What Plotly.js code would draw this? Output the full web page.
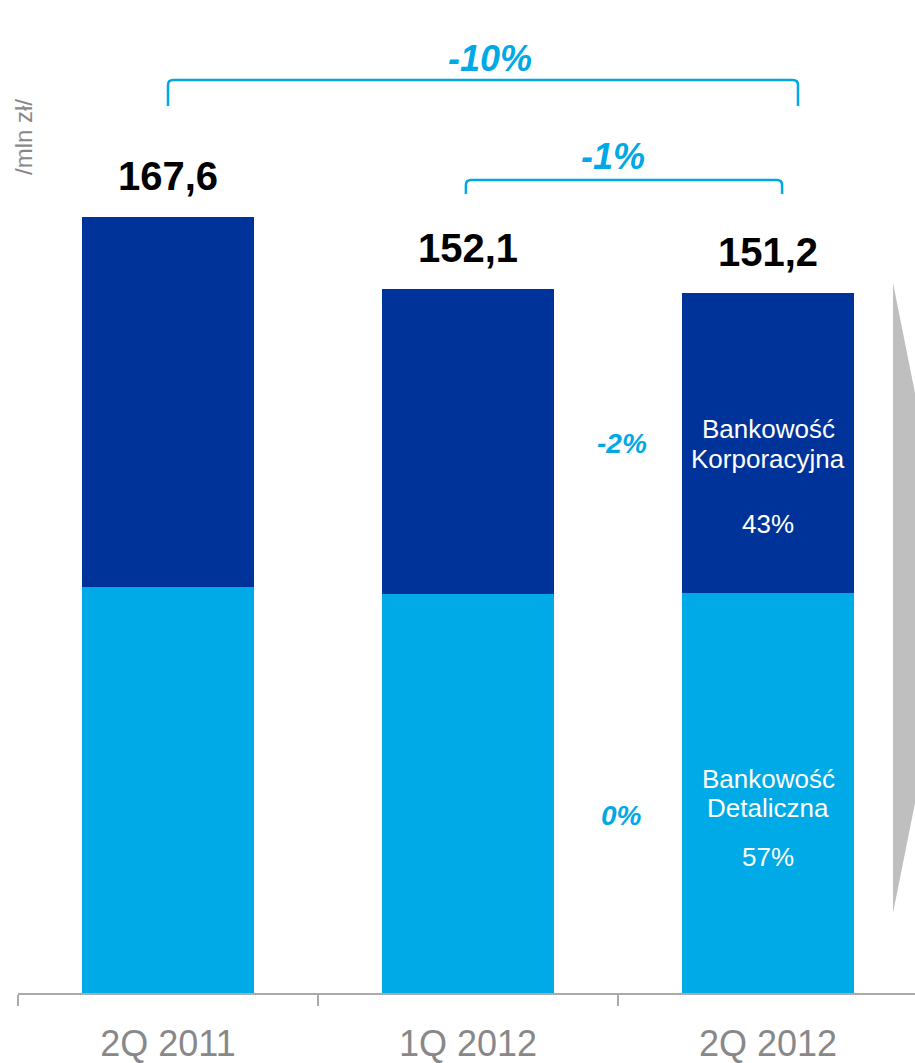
<!DOCTYPE html>
<html>
<head>
<meta charset="utf-8">
<script src="https://cdn.plot.ly/plotly-3.0.1.min.js"></script>
<style>html,body{margin:0;padding:0;background:#fff;}#chart{width:915px;height:1063px;}</style>
</head>
<body>
<div id="chart"></div>
<script>
// ---- data ----
const categories = ["2Q 2011", "1Q 2012", "2Q 2012"];
const retail = [87.7, 86.2, 86.4];        // Bankowość Detaliczna
const corporate = [79.9, 65.9, 64.8];     // Bankowość Korporacyjna
const totalLabels = ["167,6", "152,1", "151,2"];
const corporateLines = ["Bankowość", "Korporacyjna"];
const retailLines = ["Bankowość", "Detaliczna"];
const changeTotalLong = "-10%";
const changeTotalShort = "-1%";
const changeCorporate = "-2%";
const changeRetail = "0%";
const shareCorporate = "43%";
const shareRetail = "57%";
const unitLabel = "/mln zł/";

// ---- styles ----
const DARK = "#003399";
const LIGHT = "#00aae6";
const ACCENT = "#00a9e6";
const GREY = "#888888";
const FONT = "'Liberation Sans', Arial, sans-serif";

const totals = retail.map((v, i) => v + corporate[i]);

const traces = [
  {type: "bar", x: categories, y: retail, marker: {color: LIGHT, line: {width: 0}}, hoverinfo: "skip", name: "Bankowość Detaliczna"},
  {type: "bar", x: categories, y: corporate, marker: {color: DARK, line: {width: 0}}, hoverinfo: "skip", name: "Bankowość Korporacyjna"}
];

const annotations = [];
categories.forEach((c, i) => {
  annotations.push({x: c, y: totals[i], xref: "x", yref: "y", text: "<b>" + totalLabels[i] + "</b>",
    showarrow: false, yanchor: "middle", yshift: 41, font: {family: FONT, size: 40, color: "#000"}});
});
const last = categories[2];
const lastIdx = 2;
const corpMid = retail[lastIdx] + corporate[lastIdx] / 2;
const retMid = retail[lastIdx] / 2;
function inner(y, text, shift) {
  annotations.push({x: last, y: y, xref: "x", yref: "y", text: text, showarrow: false, yanchor: "middle",
    yshift: shift, font: {family: FONT, size: 26, color: "#fff"}});
}
inner(corpMid, corporateLines[0], 14);
inner(corpMid, corporateLines[1], -16);
inner(corpMid, shareCorporate, -81);
inner(retMid, retailLines[0], 14);
inner(retMid, retailLines[1], -14.5);
inner(retMid, shareRetail, -64);
// segment change labels
annotations.push({x: 1.513, y: corpMid, xref: "x", yref: "y",
  text: "<b><i>" + changeCorporate + "</i></b>", showarrow: false, font: {family: FONT, size: 28, color: ACCENT}});
annotations.push({x: 1.513, y: retMid, xref: "x", yref: "y",
  text: "<b><i>" + changeRetail + "</i></b>", showarrow: false, yshift: -22, font: {family: FONT, size: 28, color: ACCENT}});
// bracket labels
annotations.push({x: 1.073, y: 201.9, xref: "x", yref: "y",
  text: "<b><i>" + changeTotalLong + "</i></b>", showarrow: false, font: {family: FONT, size: 36, color: ACCENT}});
annotations.push({x: 1.483, y: 180.6, xref: "x", yref: "y",
  text: "<b><i>" + changeTotalShort + "</i></b>", showarrow: false, font: {family: FONT, size: 36, color: ACCENT}});
// unit label
annotations.push({x: -0.5, y: 0.862, xref: "x", yref: "paper", text: unitLabel, textangle: -90,
  xanchor: "center", yanchor: "middle", xshift: 5,
  showarrow: false, font: {family: FONT, size: 24, color: GREY}});

function bracket(x0, x1, yTop, yEnd) {
  const dx = 0.017, dy = 1.1;
  return {type: "path", xref: "x", yref: "y", layer: "above",
    path: `M ${x0},${yEnd} L ${x0},${yTop - dy} Q ${x0},${yTop} ${x0 + dx},${yTop} L ${x1 - dx},${yTop} Q ${x1},${yTop} ${x1},${yTop - dy} L ${x1},${yEnd}`,
    line: {color: ACCENT, width: 2.5}};
}

const shapes = [
  bracket(0, 2.1, 197.2, 191.6),
  bracket(0.993, 2.047, 175.6, 172.6),
  {type: "path", xref: "paper", yref: "paper", layer: "below",
    path: "M 0.9755,0.715 L 1.0457,0.3978 L 0.9755,0.0806 Z",
    fillcolor: "#bfbfbf", line: {width: 0}}
];

const layout = {
  width: 915, height: 1063, autosize: false,
  margin: {l: 18, r: 0, t: 0, b: 70, pad: 0},
  paper_bgcolor: "#fff", plot_bgcolor: "rgba(0,0,0,0)",
  barmode: "stack", bargap: 0.427, showlegend: false,
  font: {family: FONT},
  xaxis: {type: "category", range: [-0.5, 2.49], showline: true, linecolor: "#aaaaaa", linewidth: 2,
    ticks: "outside", tickson: "boundaries", ticklen: 11, tickwidth: 2, tickcolor: "#aaaaaa",
    ticklabelstandoff: 18, tickfont: {family: FONT, size: 36, color: GREY}, showgrid: false, zeroline: false, fixedrange: true},
  yaxis: {range: [0, 214.5], visible: false, showgrid: false, zeroline: false, fixedrange: true},
  annotations: annotations,
  shapes: shapes
};

Plotly.newPlot("chart", traces, layout, {displayModeBar: false, staticPlot: true});
</script>
</body>
</html>
